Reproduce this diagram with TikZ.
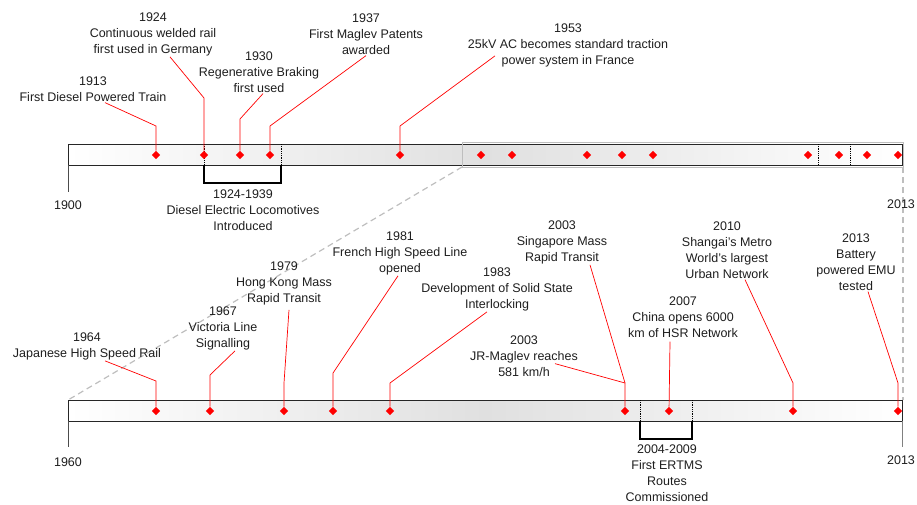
\documentclass[tikz,border=0pt]{standalone}
\usepackage{fontspec}
\setmainfont{Liberation Sans}
\usetikzlibrary{shapes.geometric}
\definecolor{evred}{HTML}{FF0000}
\definecolor{txtgray}{HTML}{1E1E1E}
\definecolor{barshade}{HTML}{E0E0E0}
\definecolor{zoomgray}{HTML}{BEBEBE}

\begin{document}
\begin{tikzpicture}[
  x=1pt, y=-1pt,
  evline/.style={evred, line width=0.7pt},
  milestone/.style={diamond, fill=evred, inner sep=0pt, minimum size=8.5pt},
  evtext/.style={txtgray, font=\fontsize{12.5}{16}\selectfont, align=center, inner sep=1pt},
  spanmark/.style={black, line width=0.8pt, densely dotted},
  bracket/.style={black, line width=1.6pt},
  axtick/.style={black!70, line width=0.9pt}
]
\useasboundingbox (0,0) rectangle (917,504);

% ── Zoom window corners ──
\coordinate (zw-nw) at (462,142);
\coordinate (zw-sw) at (462,167);
\coordinate (zw-se) at (903,167);
\coordinate (bot-nw) at (68,400);
\coordinate (bot-ne) at (903,400);

% Dashed guide lines from the zoom window down to the lower bar
\draw[zoomgray, line width=1.2pt, dash pattern=on 6pt off 4pt] (zw-sw) -- (bot-nw);
\draw[zoomgray, line width=1.2pt, dash pattern=on 6pt off 4pt] (zw-se) -- (bot-ne);

% ── Upper timeline 1900-2013 ──
\shade[left color=white, right color=white, middle color=barshade] (68,144) rectangle (902,165);
\draw[black!85, line width=0.8pt] (68,144) rectangle (902,165);
\draw[zoomgray, line width=1pt] (zw-nw) rectangle (zw-se);
\draw[axtick] (68,165) -- (68,192);

% interval markers
\foreach \x in {204,281,818,850}
  \draw[spanmark] (\x,144) -- (\x,165);

% 1924-1939 bracket
\draw[bracket] (204,165) -- (204,183) -- (281,183) -- (281,165);

% ── Lower timeline 1960-2013 ──
\shade[left color=white, right color=white, middle color=barshade] (68,400) rectangle (902,421);
\draw[black!85, line width=0.8pt] (68,400) rectangle (902,421);
\draw[axtick] (68,421) -- (68,447);
\draw[axtick, black!50] (902,421) -- (902,447);

\foreach \x in {640,692}
  \draw[spanmark] (\x,400) -- (\x,421);

% 2004-2009 bracket
\draw[bracket] (640,421) -- (640,439) -- (692,439) -- (692,421);

% ── Milestones, upper bar ──
\node[milestone] (d1913) at (156,155) {};
\node[milestone] (d1924) at (204,155) {};
\node[milestone] (d1930) at (240,155) {};
\node[milestone] (d1937) at (270,155) {};
\node[milestone] (d1953) at (400,155) {};
\foreach \x [count=\i] in {481,512,587,622,653,808,839,867,898}
  \node[milestone] (zm\i) at (\x,155) {};

% ── Milestones, lower bar ──
\node[milestone] (d1964) at (156,411) {};
\node[milestone] (d1967) at (210,411) {};
\node[milestone] (d1979) at (284,411) {};
\node[milestone] (d1981) at (333,411) {};
\node[milestone] (d1983) at (390,411) {};
\node[milestone] (d2003) at (625,411) {};
\node[milestone] (d2007) at (669,411) {};
\node[milestone] (d2010) at (793,411) {};
\node[milestone] (d2013) at (898,411) {};

% ── Year labels ──
\node[evtext] (y1900) at (68,205) {1900};
\node[evtext] (y2013a) at (901,204) {2013};
\node[evtext] (y1960) at (68,462) {1960};
\node[evtext] (y2013b) at (901,460) {2013};

% ── Event texts, upper ──
\node[evtext] (l1913) at (93,89) {1913\\First Diesel Powered Train};
\node[evtext] (l1924) at (153,34) {1924\\Continuous welded rail\\first used in Germany};
\node[evtext] (l1930) at (259,72) {1930\\Regenerative Braking\\first used};
\node[evtext] (l1937) at (366,34) {1937\\First Maglev Patents\\awarded};
\node[evtext] (l1953) at (568,45) {1953\\25kV AC becomes standard traction\\power system in France};
\node[evtext] (lspan1) at (243,210) {1924-1939\\Diesel Electric Locomotives\\Introduced};

% ── Event texts, lower ──
\node[evtext] (l1964) at (87,346) {1964\\Japanese High Speed Rail};
\node[evtext] (l1967) at (223,328) {1967\\Victoria Line\\Signalling};
\node[evtext] (l1979) at (284,283) {1979\\Hong Kong Mass\\Rapid Transit};
\node[evtext] (l1981) at (400,253) {1981\\French High Speed Line\\opened};
\node[evtext] (l1983) at (497,289) {1983\\Development of Solid State\\Interlocking};
\node[evtext] (l2003a) at (524,356) {2003\\JR-Maglev reaches\\581 km/h};
\node[evtext] (l2003b) at (562,242) {2003\\Singapore Mass\\Rapid Transit};
\node[evtext] (l2007) at (683,317) {2007\\China opens 6000\\km of HSR Network};
\node[evtext] (l2010) at (727,250) {2010\\Shangai's Metro\\World's largest\\Urban Network};
\node[evtext] (l2013) at (856,262) {2013\\Battery\\powered EMU\\tested};
\node[evtext] (lspan2) at (667,473) {2004-2009\\First ERTMS\\Routes\\Commissioned};

% ── Connectors, upper ──
\draw[evline] ([xshift=12pt]l1913.south) -- (156,126) -- (d1913);
\draw[evline] ([xshift=17pt]l1924.south) -- (204,98) -- (d1924);
\draw[evline] ([xshift=4pt]l1930.south) -- (240,119) -- (d1930);
\draw[evline] (l1937.south) -- (270,126) -- (d1937);
\draw[evline] ([shift={(-73pt,12pt)}]l1953.south) -- (400,126) -- (d1953);

% ── Connectors, lower ──
\draw[evline] ([xshift=18pt]l1964.south) -- (156,381) -- (d1964);
\draw[evline] ([xshift=12pt]l1967.south) -- (210,375) -- (d1967);
\draw[evline] ([shift={(5pt,-4pt)}]l1979.south) -- (284,383) -- (d1979);
\draw[evline] ([xshift=-2pt]l1981.south) -- (333,373) -- (d1981);
\draw[evline] ([xshift=-10pt]l1983.south) -- (390,383) -- (d1983);
\draw[evline] ([shift={(31pt,14pt)}]l2003a.south) -- (625,383) -- (d2003);
\draw[evline] ([xshift=28pt]l2003b.south) -- (625,383);
\draw[evline] ([shift={(-13pt,-3pt)}]l2007.south) -- (d2007);
\draw[evline] ([xshift=18pt]l2010.south) -- (793,383) -- (d2010);
\draw[evline] ([xshift=12pt]l2013.south) -- (898,383) -- (d2013);

\end{tikzpicture}
\end{document}
